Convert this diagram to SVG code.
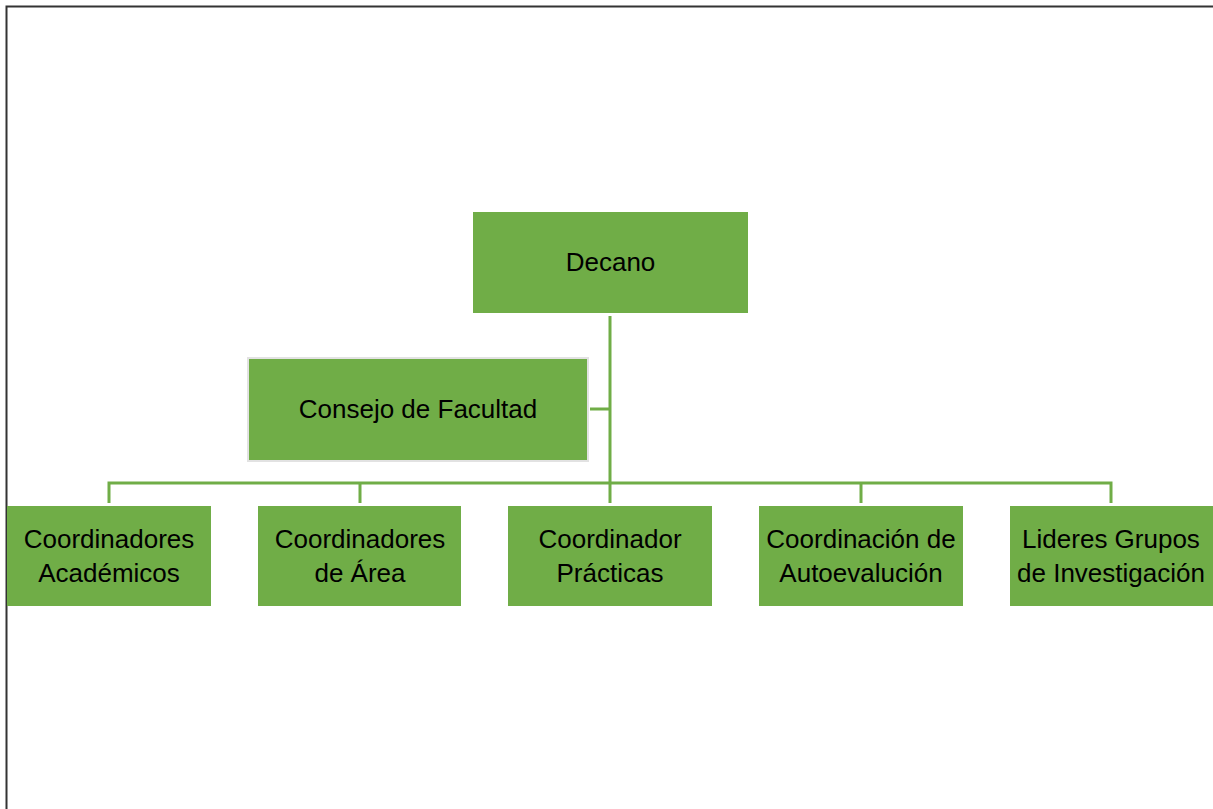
<svg xmlns="http://www.w3.org/2000/svg" width="1213" height="809" viewBox="0 0 1213 809">
<style>
.box{fill:#70AD47;}
.t{font-family:"Liberation Sans",Arial,sans-serif;font-size:26px;fill:#000;text-anchor:middle;}
.c{stroke:#70AD47;stroke-width:3;fill:none;}
</style>
<rect x="0" y="0" width="1213" height="809" fill="#fff"/>
<path d="M6.5 809 V6.5 H1213" fill="none" stroke="#333" stroke-width="2"/>
<g id="connectors">
<path class="c" d="M610 316 V483 M590 409 H610 M109 503 V483 H1111 V503 M360 483 V503 M610 483 V503 M861 483 V503"/>
</g>
<g id="decano"><rect class="box" x="473" y="212" width="275" height="101"/><text class="t" x="610.5" y="271">Decano</text></g>
<g id="consejo"><rect class="box" x="248" y="358" width="340" height="103" stroke="#e2e2e2" stroke-width="2"/><text class="t" x="418" y="418">Consejo de Facultad</text></g>
<g id="academicos"><rect class="box" x="7" y="506" width="204" height="100"/><text class="t" x="109" y="548">Coordinadores</text><text class="t" x="109" y="582">Académicos</text></g>
<g id="area"><rect class="box" x="258" y="506" width="203" height="100"/><text class="t" x="360" y="548">Coordinadores</text><text class="t" x="360" y="582">de Área</text></g>
<g id="practicas"><rect class="box" x="508" y="506" width="204" height="100"/><text class="t" x="610" y="548">Coordinador</text><text class="t" x="610" y="582">Prácticas</text></g>
<g id="autoevaluacion"><rect class="box" x="759" y="506" width="204" height="100"/><text class="t" x="861" y="548">Coordinación de</text><text class="t" x="861" y="582">Autoevalución</text></g>
<g id="lideres"><rect class="box" x="1010" y="506" width="203" height="100"/><text class="t" x="1111" y="548">Lideres Grupos</text><text class="t" x="1111" y="582">de Investigación</text></g>
</svg>
